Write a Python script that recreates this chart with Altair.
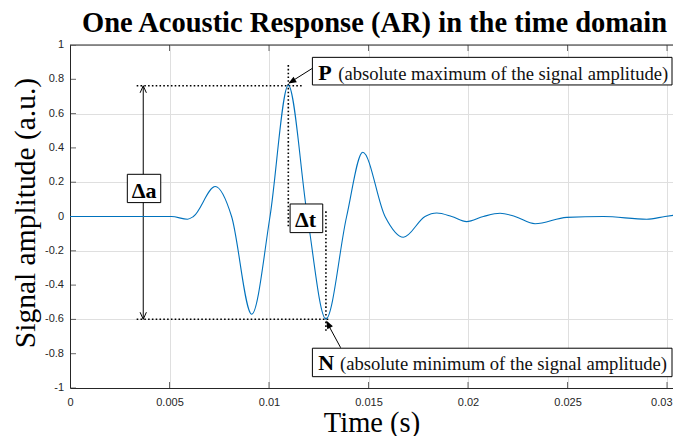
import altair as alt
import pandas as pd

# ---- signal ----
time_s = [0.0, 0.0040, 0.0051, 0.0059, 0.0062, 0.0073, 0.00812, 0.00913, 0.01005,
          0.01097, 0.01193, 0.01286, 0.0139, 0.01471, 0.01583, 0.01675, 0.01784,
          0.01843, 0.01918, 0.01993, 0.02077, 0.02161, 0.02236, 0.02337, 0.02496,
          0.0268, 0.02898, 0.0299, 0.0307]
amplitude = [0.0, 0.0, 0.0, -0.016, 0.0, 0.175, 0.0, -0.57, 0.0,
             0.765, 0.0, -0.597, 0.0, 0.375, 0.0, -0.121, 0.0,
             0.020, 0.0, -0.030, 0.0, 0.019, 0.0, -0.042, -0.005,
             0.0, -0.016, 0.0, 0.013]

x_ticks = [0, 0.005, 0.01, 0.015, 0.02, 0.025, 0.03]
y_ticks = [-1, -0.8, -0.6, -0.4, -0.2, 0, 0.2, 0.4, 0.6, 0.8, 1]
y_tick_labels = ["-1", "-0.8", "-0.6", "-0.4", "-0.2", "0", "0.2", "0.4", "0.6", "0.8", "1"]
x_max = 0.0303  # visible part of the time axis

# ---- annotations (data units) ----
p_t, p_a = 0.01097, 0.762
n_t, n_a = 0.01286, -0.599
dotted = [
    {"t": 0.00335, "t2": 0.01172, "a": p_a, "a2": p_a},
    {"t": p_t, "t2": p_t, "a": 0.883, "a2": -0.06},
    {"t": n_t, "t2": n_t, "a": 0.03, "a2": -0.68},
    {"t": 0.00335, "t2": 0.01307, "a": n_a, "a2": n_a},
]
arrow_t = 0.00368
shafts = [
    {"t": arrow_t, "t2": arrow_t, "a": p_a, "a2": n_a},
    {"t": 0.01218, "t2": 0.01100, "a": 0.864, "a2": 0.778},
    {"t": 0.0136, "t2": 0.01290, "a": -0.765, "a2": -0.615},
]
frame_top = [{"t": 0.0, "t2": 0.0307, "a": 1.0, "a2": 1.0}]
chevrons = [
    {"t": arrow_t, "a": p_a, "ang": 0},
    {"t": arrow_t, "a": n_a, "ang": 180},
]
heads = [
    {"t": 0.01097, "a": 0.775, "ang": 239},
    {"t": 0.01288, "a": -0.607, "ang": 332},
]
boxes = [
    {"t": 0.00288, "t2": 0.00456, "a": 0.246, "a2": 0.081},
    {"t": 0.01106, "t2": 0.01270, "a": 0.073, "a2": -0.094},
    {"t": 0.01218, "t2": 0.03025, "a": 0.928, "a2": 0.767},
    {"t": 0.01218, "t2": 0.03025, "a": -0.768, "a2": -0.934},
]
big_labels = [
    {"t": 0.00310, "a": 0.106, "txt": "Δa"},
    {"t": 0.01131, "a": -0.059, "txt": "Δt"},
    {"t": 0.01248, "a": 0.796, "txt": "P"},
    {"t": 0.01248, "a": -0.895, "txt": "N"},
]
small_labels = [
    {"t": 0.01348, "a": 0.796, "txt": "(absolute maximum of the signal amplitude)"},
    {"t": 0.01357, "a": -0.895, "txt": "(absolute minimum of the signal amplitude)"},
]

xs = alt.Scale(domain=[0, x_max], nice=False, zero=False)
ys = alt.Scale(domain=[-1, 1], nice=False, zero=False)

sig = pd.DataFrame({"t": time_s, "a": amplitude})

X = alt.X("t:Q", scale=xs)
Y = alt.Y("a:Q", scale=ys)

axes_layer = alt.Chart(sig).mark_line(opacity=0).encode(
    x=alt.X("t:Q", scale=xs, axis=alt.Axis(
        values=x_ticks, labelExpr="'' + datum.value", title="Time (s)",
        titleFont="Liberation Serif", titleFontSize=28.5, titleFontWeight="normal",
        titleColor="black", titleY=43, titleBaseline="alphabetic", labelPadding=8,
        labelOverlap=False,
        labelAlign={"condition": {"test": "datum.value > 0.029", "value": "right"}, "value": "center"},
        labelOffset={"condition": {"test": "datum.value > 0.029", "value": 5}, "value": 0})),
    y=alt.Y("a:Q", scale=ys, axis=alt.Axis(
        values=y_ticks, labels=False, title="Signal amplitude (a.u.)",
        titleFont="Liberation Serif", titleFontSize=29.5, titleFontWeight="normal",
        titleColor="black", titleX=-36, titleY=167.5, titleAngle=-90,
        titleBaseline="alphabetic")),
)

ylab = alt.Chart(pd.DataFrame({"t": [0] * len(y_ticks), "a": y_ticks, "lab": y_tick_labels})).mark_text(
    align="right", baseline="middle", dx=-6, font="Liberation Sans", fontSize=11, color="#262626").encode(
    x=X, y=Y, text="lab:N")

line = alt.Chart(sig).mark_line(color="#0072BD", strokeWidth=1.1, interpolate="monotone").encode(x=X, y=Y)

tick_df_x = pd.DataFrame({"t": x_ticks * 2, "a": [-1] * len(x_ticks) + [1] * len(x_ticks)})
tick_df_y = pd.DataFrame({"t": [0] * len(y_ticks), "a": y_ticks})
ticks_x = alt.Chart(tick_df_x).mark_tick(orient="vertical", size=12, thickness=1, color="#262626", clip=True).encode(x=X, y=Y)
ticks_y = alt.Chart(tick_df_y).mark_tick(orient="horizontal", size=12, thickness=1, color="#262626", clip=True).encode(x=X, y=Y)

def seg(df, **kw):
    return alt.Chart(pd.DataFrame(df)).mark_rule(**kw).encode(x=X, x2="t2:Q", y=Y, y2="a2:Q")

top_line = seg(frame_top, color="#262626", strokeWidth=1)
dots = seg(dotted, color="black", strokeWidth=1.6, strokeDash=[1.6, 2.2])
shaft = seg(shafts, color="black", strokeWidth=1)

chev = alt.Chart(pd.DataFrame(chevrons)).mark_point(
    shape="M-0.45,1 L0,0 L0.45,1", size=196, filled=False, color="black", strokeWidth=1, opacity=1).encode(
    x=X, y=Y, angle=alt.Angle("ang:Q", scale=None))

head = alt.Chart(pd.DataFrame(heads)).mark_point(
    shape="M0,0 L-0.4,1 L0.4,1 Z", size=256, filled=True, color="black", opacity=1).encode(
    x=X, y=Y, angle=alt.Angle("ang:Q", scale=None))

box = alt.Chart(pd.DataFrame(boxes)).mark_rect(fill="white", stroke="black", strokeWidth=1).encode(
    x=X, x2="t2:Q", y=Y, y2="a2:Q")

big = alt.Chart(pd.DataFrame(big_labels)).mark_text(
    align="left", baseline="alphabetic", font="Liberation Serif", fontSize=22, fontWeight="bold", color="black").encode(
    x=X, y=Y, text="txt:N")

small = alt.Chart(pd.DataFrame(small_labels)).mark_text(
    align="left", baseline="alphabetic", font="Liberation Serif", fontSize=18.6, color="#111111").encode(
    x=X, y=Y, text="txt:N")

chart = alt.layer(axes_layer, ylab, ticks_x, ticks_y, top_line, dots, shaft, chev, head, line, box, big, small).properties(
    width=603, height=343,
    autosize=alt.AutoSizeParams(type="none"),
    padding={"left": 62, "top": 37, "right": 0, "bottom": 48},
    title=alt.TitleParams("One Acoustic Response (AR) in the time domain", frame="group",
                          anchor="middle", offset=8, baseline="alphabetic", dx=3, dy=29),
).configure_view(stroke=None).configure_axis(
    grid=True, gridColor="#dfdfdf", gridWidth=1, domain=True, domainColor="#262626", domainWidth=1,
    ticks=False,
    labelFont="Liberation Sans", labelFontSize=11, labelColor="#262626",
).configure_title(font="Liberation Serif", fontSize=28.5, fontWeight="bold", color="black")

chart.save("out.html", embed_options={"renderer": "svg", "actions": False})
